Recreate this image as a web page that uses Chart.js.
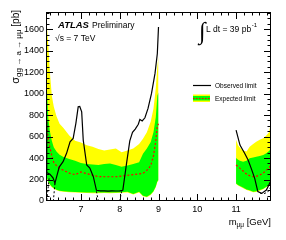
<!DOCTYPE html>
<html>
<head>
<meta charset="utf-8">
<script src="https://cdn.jsdelivr.net/npm/chart.js@4"></script>
<style>
  body { margin: 0; background: #fff; }
  canvas { display: block; }
</style>
</head>
<body>
<canvas id="limitChart" width="286" height="240"></canvas>
<script>
// expected-limit grid, low mass window
const expX1 = [6.1, 6.13, 6.16, 6.2, 6.25, 6.3, 6.37, 6.45, 6.55, 6.7, 6.85, 7.0, 7.15, 7.3, 7.45, 7.6, 7.75, 7.9, 8.05, 8.2, 8.35, 8.5, 8.6, 8.7, 8.8, 8.87, 8.93, 8.97, 9.0];
const yelHi1 = [1740, 1600, 1450, 1200, 980, 880, 790, 720, 680, 610, 560, 545, 520, 505, 485, 470, 480, 490, 455, 470, 490, 530, 580, 640, 740, 860, 1050, 1250, 1350];
const grnHi1 = [1200, 1000, 770, 650, 560, 500, 460, 430, 410, 390, 375, 355, 345, 340, 335, 345, 350, 335, 320, 330, 345, 360, 440, 490, 550, 640, 780, 980, 1010];
const med1 = [850, 660, 580, 500, 420, 360, 330, 305, 285, 260, 245, 270, 255, 240, 228, 226, 226, 226, 232, 240, 245, 252, 258, 285, 330, 420, 560, 700, 720];
const grnLo1 = [250, 210, 180, 155, 135, 120, 105, 95, 90, 86, 84, 82, 80, 78, 78, 80, 78, 80, 82, 85, 65, 85, 50, 40, 62, 90, 135, 185, 195];
const yelLo1 = [240, 200, 172, 148, 128, 114, 99, 90, 85, 81, 79, 77, 75, 73, 73, 75, 73, 75, 77, 80, 60, 80, 45, 35, 57, 85, 128, 178, 188];

// expected-limit grid, upsilon-side window
const expX2 = [11.0, 11.05, 11.1, 11.18, 11.27, 11.35, 11.44, 11.52, 11.61, 11.7, 11.78, 11.85, 11.9];
const yelHi2 = [570, 520, 495, 470, 460, 505, 530, 552, 570, 585, 610, 640, 740];
const grnHi2 = [400, 385, 375, 366, 375, 397, 405, 412, 420, 428, 445, 465, 490];
const med2 = [335, 320, 304, 280, 250, 235, 226, 230, 242, 260, 288, 310, 335];
const grnLo2 = [164, 150, 140, 125, 108, 100, 87, 90, 102, 115, 133, 150, 164];
const yelLo2 = [158, 144, 134, 119, 102, 94, 81, 84, 96, 109, 127, 144, 158];

// observed limit
const obsX1 = [6.1, 6.12, 6.2, 6.28, 6.33, 6.44, 6.54, 6.63, 6.72, 6.8, 6.87, 6.93, 6.97, 7.02, 7.06, 7.15, 7.23, 7.32, 7.4, 7.5, 7.6, 7.7, 7.8, 7.9, 8.0, 8.08, 8.18, 8.26, 8.33, 8.4, 8.48, 8.52, 8.58, 8.65, 8.73, 8.82, 8.91, 8.97, 9.0];
const obsY1 = [740, 265, 250, 215, 165, 316, 366, 444, 552, 583, 723, 877, 880, 830, 567, 335, 307, 226, 100, 95, 95, 92, 95, 93, 95, 100, 360, 560, 640, 670, 715, 760, 745, 775, 862, 1002, 1188, 1374, 1620];
const obsX2 = [11.0, 11.1, 11.22, 11.31, 11.39, 11.48, 11.56, 11.66, 11.78, 11.9];
const obsY2 = [660, 521, 444, 381, 304, 211, 87, 71, 102, 190];

// dashed pieces of the observed limit
const dashSegs = [
  [[6.18, 211], [6.12, 0]],
  [[6.33, 165], [6.29, 0]],
  [[7.4, 90], [7.45, 0]],
  [[8.05, 90], [8.0, 0]],
  [[11.62, 72], [11.72, 68], [11.82, 85], [11.9, 135]]
];

const xTicks = [7, 8, 9, 10, 11];
const yTicks = [0, 200, 400, 600, 800, 1000, 1200, 1400, 1600];

const pts = (xs, ys) => xs.map((v, i) => ({ x: v, y: ys[i] }));

function band(xs, hi, lo, color, order) {
  return [
    { data: pts(xs, hi), borderColor: 'rgba(0,0,0,0)', borderWidth: 0, backgroundColor: color, fill: '+1', order: order },
    { data: pts(xs, lo), borderColor: 'rgba(0,0,0,0)', borderWidth: 0, fill: false, order: order }
  ];
}

const datasets = [
  ...band(expX1, yelHi1, yelLo1, '#ffff00', 5),
  ...band(expX2, yelHi2, yelLo2, '#ffff00', 5),
  ...band(expX1, grnHi1, grnLo1, '#00ff00', 4),
  ...band(expX2, grnHi2, grnLo2, '#00ff00', 4),
  { data: pts(expX1, med1), borderColor: '#ff0000', borderWidth: 1.2, borderDash: [2, 2], fill: false, order: 3 },
  { data: pts(expX2, med2), borderColor: '#ff0000', borderWidth: 1.2, borderDash: [2, 2], fill: false, order: 3 },
  ...dashSegs.map(s => ({ data: s.map(p => ({ x: p[0], y: p[1] })), borderColor: '#000', borderWidth: 1, borderDash: [2, 2], fill: false, order: 2 })),
  { data: pts(obsX1, obsY1), borderColor: '#000', borderWidth: 1.2, fill: false, order: 1 },
  { data: pts(obsX2, obsY2), borderColor: '#000', borderWidth: 1.2, fill: false, order: 1 }
];

const FONT = '"Liberation Sans", Arial, sans-serif';

function drawPieces(ctx, pieces, x, y) {
  let cx = x;
  pieces.forEach(p => {
    ctx.font = p[1] + 'px ' + FONT;
    ctx.fillText(p[0], cx, y + p[2]);
    cx += ctx.measureText(p[0]).width;
  });
  return cx;
}
function piecesWidth(ctx, pieces) {
  let w = 0;
  pieces.forEach(p => { ctx.font = p[1] + 'px ' + FONT; w += ctx.measureText(p[0]).width; });
  return w;
}

// frame, inward ticks and all the ROOT-style text
const decor = {
  id: 'decor',
  afterDraw(chart) {
    const { ctx, chartArea: a, scales: { x, y } } = chart;
    ctx.save();
    ctx.strokeStyle = '#000';
    ctx.lineWidth = 1;
    ctx.strokeRect(a.left + 0.5, a.top + 0.5, a.right - a.left - 1, a.bottom - a.top - 1);

    ctx.beginPath();
    for (let i = 31; i <= 59; i++) {
      const px = Math.round(x.getPixelForValue(i / 5)) + 0.5;
      const len = i % 5 === 0 ? 7 : 3.5;
      ctx.moveTo(px, a.bottom); ctx.lineTo(px, a.bottom - len);
      ctx.moveTo(px, a.top); ctx.lineTo(px, a.top + len);
    }
    for (let v = 50; v <= 1750; v += 50) {
      const py = Math.round(y.getPixelForValue(v)) + 0.5;
      const len = v % 200 === 0 ? 7 : 3.5;
      ctx.moveTo(a.left, py); ctx.lineTo(a.left + len, py);
      ctx.moveTo(a.right, py); ctx.lineTo(a.right - len, py);
    }
    ctx.stroke();

    ctx.fillStyle = '#000';
    ctx.textAlign = 'left';
    ctx.textBaseline = 'alphabetic';

    // x title
    const xt = [['m', 9.5, 0], ['μμ', 6.5, 2], [' [GeV]', 9.5, 0]];
    drawPieces(ctx, xt, a.right - piecesWidth(ctx, xt), 225);

    // y title (rotated, reads bottom to top, ends at the top)
    const yt = [['σ', 11, 0], ['gg → a → μμ', 8, 2], [' [pb]', 10, 0]];
    ctx.save();
    ctx.translate(19, 10);
    ctx.rotate(-Math.PI / 2);
    drawPieces(ctx, yt, -piecesWidth(ctx, yt), 0);
    ctx.restore();

    // ATLAS label
    ctx.font = 'italic bold 9.5px ' + FONT;
    ctx.fillText('ATLAS', 58, 28);
    ctx.font = '8.5px ' + FONT;
    ctx.fillText('Preliminary', 92, 28);
    ctx.fillText('√s = 7 TeV', 55, 41);

    // luminosity
    ctx.font = '24px "Liberation Serif"';
    ctx.fillText('∫', 199, 39);
    const end = drawPieces(ctx, [['L dt = 39 pb', 8.5, 0]], 206, 32);
    ctx.font = '6px ' + FONT;
    ctx.fillText('-1', end + 0.5, 27);

    // legend
    ctx.lineWidth = 1.2;
    ctx.beginPath();
    ctx.moveTo(193, 85.5); ctx.lineTo(211, 85.5);
    ctx.stroke();
    ctx.fillStyle = '#ffff00';
    ctx.fillRect(193, 94.5, 17, 7.5);
    ctx.fillStyle = '#00ff00';
    ctx.fillRect(193, 96, 17, 4.5);
    ctx.strokeStyle = '#ff0000';
    ctx.setLineDash([1.5, 1.5]);
    ctx.beginPath();
    ctx.moveTo(193, 98.5); ctx.lineTo(210, 98.5);
    ctx.stroke();
    ctx.setLineDash([]);
    ctx.fillStyle = '#000';
    ctx.font = '6.5px ' + FONT;
    ctx.fillText('Observed limit', 215, 87.5);
    ctx.fillText('Expected limit', 215, 100.5);
    ctx.restore();
  }
};

const ctx = document.getElementById('limitChart').getContext('2d');

new Chart(ctx, {
  type: 'scatter',
  data: { datasets: datasets },
  options: {
    responsive: false,
    animation: false,
    devicePixelRatio: 1,
    showLine: true,
    layout: { padding: { top: 12, right: 15, left: 0, bottom: 0 } },
    elements: { point: { radius: 0 }, line: { tension: 0 } },
    plugins: {
      legend: { display: false },
      tooltip: { enabled: false },
      filler: { propagate: false }
    },
    scales: {
      x: {
        type: 'linear',
        min: 6.1,
        max: 11.9,
        grid: { display: false, drawTicks: false },
        border: { display: false },
        afterFit: s => { s.height = 39; },
        afterBuildTicks: s => { s.ticks = xTicks.map(v => ({ value: v })); },
        ticks: {
          padding: 3,
          color: '#000',
          font: { family: FONT, size: 9 },
          maxRotation: 0,
          callback: v => String(v)
        }
      },
      y: {
        min: 0,
        max: 1760,
        grid: { display: false, drawTicks: false },
        border: { display: false },
        afterFit: s => { s.width = 46; },
        afterBuildTicks: s => { s.ticks = yTicks.map(v => ({ value: v })); },
        ticks: {
          padding: 2,
          color: '#000',
          font: { family: FONT, size: 9 },
          callback: v => String(v)
        }
      }
    }
  },
  plugins: [decor]
});
</script>
</body>
</html>
